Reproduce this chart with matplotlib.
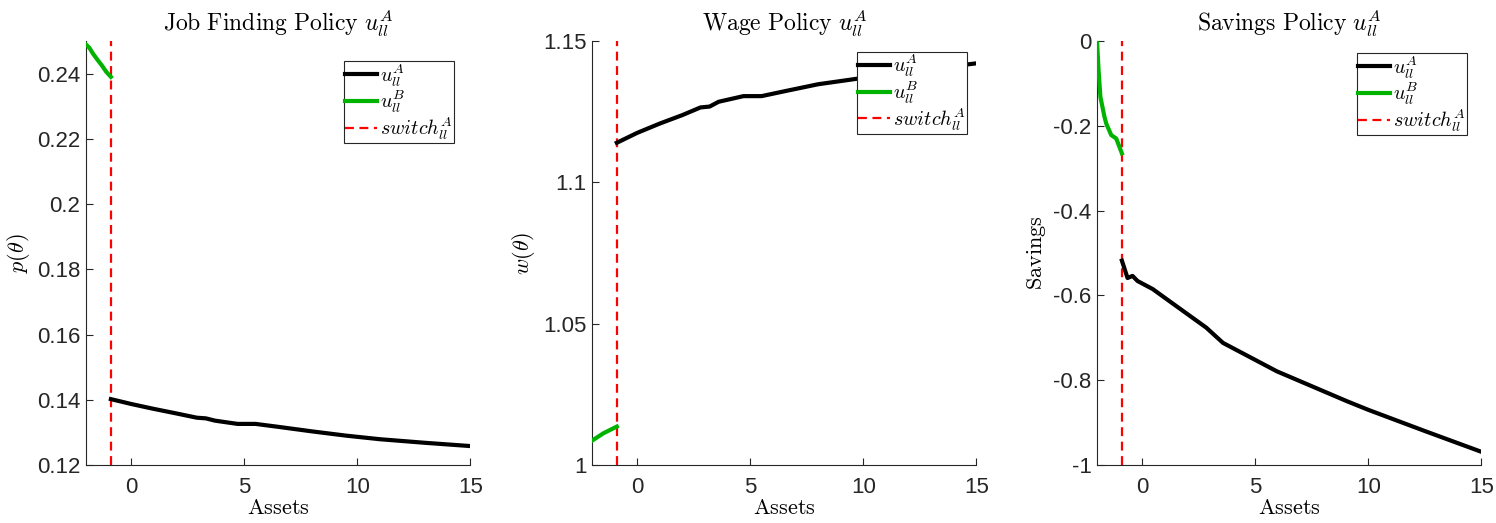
import numpy as np
import matplotlib
matplotlib.use("Agg")
import matplotlib.pyplot as plt

plt.rcParams['mathtext.fontset'] = 'cm'
plt.rcParams['axes.unicode_minus'] = False
plt.rcParams['font.family'] = 'Liberation Sans'

# switch point (assets)
switch_x = -0.9

# Job finding policy
jf_xB = [-2.0, -1.85, -1.7, -1.5, -1.3, -1.1, -0.9]
jf_yB = [0.2489, 0.2479, 0.2462, 0.2443, 0.2425, 0.2405, 0.2390]
jf_xA = [-0.9, 0, 1, 2, 2.9, 3.3, 3.7, 4.7, 5.5, 6.5, 8, 9.5, 11, 13, 15]
jf_yA = [0.1402, 0.1387, 0.1372, 0.1358, 0.1345, 0.1343, 0.1336, 0.1326, 0.1326,
         0.1317, 0.1303, 0.1290, 0.1279, 0.1268, 0.1258]

# Wage policy
wg_xB = [-2.0, -1.5, -0.9]
wg_yB = [1.0086, 1.0112, 1.0136]
wg_xA = [-0.9, 0, 1, 2, 2.8, 3.2, 3.6, 4.7, 5.5, 6.5, 8, 9.5, 11, 13, 15]
wg_yA = [1.1140, 1.1175, 1.1208, 1.1238, 1.1265, 1.1268, 1.1285, 1.1305, 1.1305,
         1.1322, 1.1347, 1.1364, 1.1382, 1.1402, 1.1421]

# Savings policy
sv_xB = [-2.0, -1.93, -1.85, -1.67, -1.59, -1.37, -1.15, -0.9]
sv_yB = [0.0, -0.07, -0.132, -0.179, -0.195, -0.222, -0.23, -0.265]
sv_xA = [-0.9, -0.65, -0.43, -0.21, 0.46, 1.5, 2.83, 3.57, 5.95, 9.07, 10, 12.5, 15]
sv_yA = [-0.518, -0.559, -0.554, -0.566, -0.585, -0.625, -0.676, -0.712, -0.779,
         -0.85, -0.87, -0.92, -0.969]

green = (0, 0.7, 0)
axcol = '#262626'

fig = plt.figure(figsize=(14.96, 5.23), dpi=100)

panels = [
    dict(left=0.0575, xA=jf_xA, yA=jf_yA, xB=jf_xB, yB=jf_yB, ylim=(0.12, 0.25),
         yticks=[0.12, 0.14, 0.16, 0.18, 0.2, 0.22, 0.24],
         ylabels=['0.12', '0.14', '0.16', '0.18', '0.2', '0.22', '0.24'],
         title=r'$\mathrm{Job\ Finding\ Policy}\ u^{A}_{ll}$', ylab=r'$p(\theta)$',
         leg=(0.958, 0.953)),
    dict(left=0.3957, xA=wg_xA, yA=wg_yA, xB=wg_xB, yB=wg_yB, ylim=(1.0, 1.15),
         yticks=[1.0, 1.05, 1.1, 1.15], ylabels=['1', '1.05', '1.1', '1.15'],
         title=r'$\mathrm{Wage\ Policy}\ u^{A}_{ll}$', ylab=r'$w(\theta)$',
         leg=(0.975, 0.975)),
    dict(left=0.7333, xA=sv_xA, yA=sv_yA, xB=sv_xB, yB=sv_yB, ylim=(-1.0, 0.0),
         yticks=[-1, -0.8, -0.6, -0.4, -0.2, 0],
         ylabels=['-1', '-0.8', '-0.6', '-0.4', '-0.2', '0'],
         title=r'$\mathrm{Savings\ Policy}\ u^{A}_{ll}$', ylab=r'$\mathrm{Savings}$',
         leg=(0.962, 0.972)),
]

for p in panels:
    ax = fig.add_axes([p['left'], 0.1109, 0.2570, 0.8107])
    ax.plot(p['xA'], p['yA'], color='black', lw=3, label=r'$u^{A}_{ll}$', zorder=3)
    ax.plot(p['xB'], p['yB'], color=green, lw=3, label=r'$u^{B}_{ll}$', zorder=3)
    ax.axvline(switch_x, color='red', ls=(0, (4, 2.5)), lw=1.6,
               label=r'$switch^{A}_{ll}$', zorder=2)
    ax.set_xlim(-2, 15)
    ax.set_ylim(*p['ylim'])
    ax.set_xticks([0, 5, 10, 15])
    ax.set_yticks(p['yticks'])
    ax.set_yticklabels(p['ylabels'])
    ax.tick_params(direction='in', labelsize=16, colors=axcol, length=5, width=0.8)
    ax.tick_params(axis='x', pad=9)
    ax.tick_params(axis='y', pad=4)
    for s in ['top', 'right']:
        ax.spines[s].set_visible(False)
    for s in ['left', 'bottom']:
        ax.spines[s].set_color(axcol)
        ax.spines[s].set_linewidth(0.8)
    ax.set_title(p['title'], fontsize=17, color='black', pad=7)
    ax.set_xlabel(r'$\mathrm{Assets}$', fontsize=16, labelpad=0)
    ax.set_ylabel(p['ylab'], fontsize=16, labelpad=4)
    leg = ax.legend(loc='upper right', bbox_to_anchor=p['leg'], fontsize=14.5,
                    fancybox=False, framealpha=1, edgecolor=axcol,
                    handlelength=1.6, handletextpad=0.15, borderpad=0.05,
                    labelspacing=0.0, borderaxespad=0)
    leg.get_frame().set_linewidth(0.8)
    leg.set_zorder(5)

fig.savefig('out.png', dpi=100)
